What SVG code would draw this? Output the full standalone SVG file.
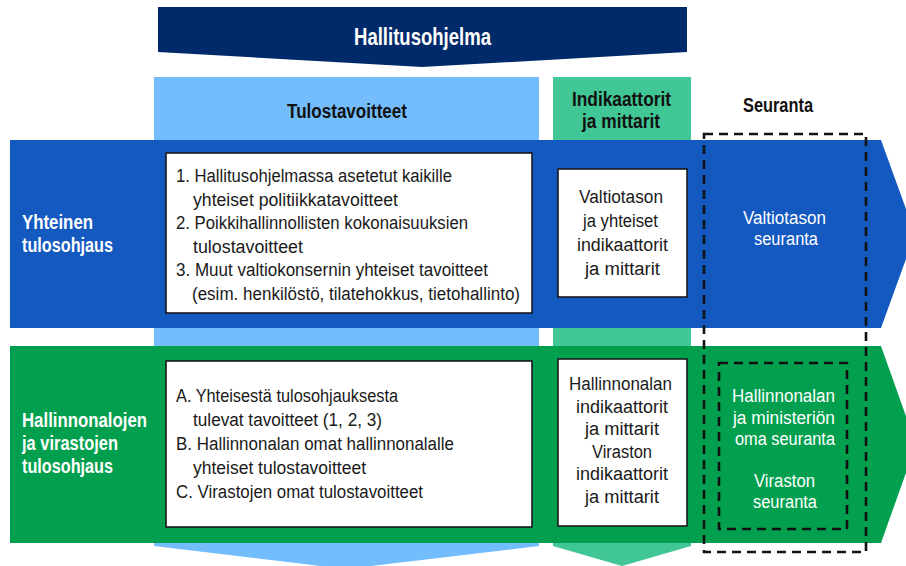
<svg xmlns="http://www.w3.org/2000/svg" width="906" height="566" viewBox="0 0 906 566">
<style>
text{font-family:"Liberation Sans",Arial,sans-serif}
.h{font-weight:bold;font-size:20px;fill:#111}
.hw{font-weight:bold;font-size:20px;fill:#fff}
.b{font-size:18px;fill:#1a1a1a}
.w{font-size:18px;fill:#fff}
.box{fill:#fff;stroke:#1a1a1a;stroke-width:1.6}
.dash{fill:none;stroke:#111;stroke-width:2.6;stroke-dasharray:9 6}
</style>
<rect width="906" height="566" fill="#fff"/>
<g id="columns">
<polygon id="col-tulostavoitteet" points="154,77 539,77 539,546 346,569 154,546" fill="#73BDFD"/>
<polygon id="col-indikaattorit" points="553,77 691,77 691,546 622,566 553,546" fill="#41C695"/>
</g>
<g id="hallitusohjelma">
<polygon points="158,7 687,7 687,52 422,67 158,52" fill="#012A6A"/>
<text x="422.5" y="45" text-anchor="middle" font-size="24" font-weight="bold" fill="#fff" textLength="137" lengthAdjust="spacingAndGlyphs">Hallitusohjelma</text>
</g>
<g id="header-tulostavoitteet">
<text class="h" x="347" y="118" text-anchor="middle" textLength="120" lengthAdjust="spacingAndGlyphs">Tulostavoitteet</text>
</g>
<g id="header-indikaattorit">
<text class="h" x="621.5" y="106" text-anchor="middle" textLength="99" lengthAdjust="spacingAndGlyphs">Indikaattorit</text>
<text class="h" x="621" y="128" text-anchor="middle" textLength="78" lengthAdjust="spacingAndGlyphs">ja mittarit</text>
</g>
<g id="header-seuranta">
<text class="h" x="778" y="112" text-anchor="middle" textLength="70" lengthAdjust="spacingAndGlyphs">Seuranta</text>
</g>
<g id="band-yhteinen">
<polygon points="10,140 881,140 915,234 881,328 10,328" fill="#1459BF"/>
<text class="hw" x="22" y="229" textLength="71" lengthAdjust="spacingAndGlyphs">Yhteinen</text>
<text class="hw" x="22" y="252" textLength="91" lengthAdjust="spacingAndGlyphs">tulosohjaus</text>
</g>
<g id="band-hallinnonalojen">
<polygon points="10,346 881,346 916,444.5 881,543 10,543" fill="#02A04E"/>
<text class="hw" x="22" y="427" textLength="125" lengthAdjust="spacingAndGlyphs">Hallinnonalojen</text>
<text class="hw" x="22" y="450" textLength="96" lengthAdjust="spacingAndGlyphs">ja virastojen</text>
<text class="hw" x="22" y="473" textLength="91" lengthAdjust="spacingAndGlyphs">tulosohjaus</text>
</g>
<g id="box-yhteiset-tavoitteet">
<rect class="box" x="166" y="153" width="366" height="160"/>
<text class="b" x="176" y="182" textLength="276" lengthAdjust="spacingAndGlyphs">1. Hallitusohjelmassa asetetut kaikille</text>
<text class="b" x="193" y="205.5" textLength="205" lengthAdjust="spacingAndGlyphs">yhteiset politiikkatavoitteet</text>
<text class="b" x="176" y="229" textLength="292" lengthAdjust="spacingAndGlyphs">2. Poikkihallinnollisten kokonaisuuksien</text>
<text class="b" x="193" y="252.5" textLength="110" lengthAdjust="spacingAndGlyphs">tulostavoitteet</text>
<text class="b" x="176" y="276" textLength="312" lengthAdjust="spacingAndGlyphs">3. Muut valtiokonsernin yhteiset tavoitteet</text>
<text class="b" x="192" y="299.5" textLength="328" lengthAdjust="spacingAndGlyphs">(esim. henkilöstö, tilatehokkus, tietohallinto)</text>
</g>
<g id="box-valtiotason-indikaattorit">
<rect class="box" x="558" y="169" width="129" height="128"/>
<text class="b" x="621" y="203" text-anchor="middle" textLength="84" lengthAdjust="spacingAndGlyphs">Valtiotason</text>
<text class="b" x="620.5" y="227" text-anchor="middle" textLength="75" lengthAdjust="spacingAndGlyphs">ja yhteiset</text>
<text class="b" x="622.5" y="251" text-anchor="middle" textLength="91" lengthAdjust="spacingAndGlyphs">indikaattorit</text>
<text class="b" x="622.5" y="275" text-anchor="middle" textLength="75" lengthAdjust="spacingAndGlyphs">ja mittarit</text>
</g>
<g id="valtiotason-seuranta">
<text class="w" x="784.5" y="224" text-anchor="middle" textLength="83" lengthAdjust="spacingAndGlyphs">Valtiotason</text>
<text class="w" x="786" y="245" text-anchor="middle" textLength="64" lengthAdjust="spacingAndGlyphs">seuranta</text>
</g>
<g id="box-hallinnonalan-tavoitteet">
<rect class="box" x="166" y="361" width="366" height="166"/>
<text class="b" x="176" y="402" textLength="222" lengthAdjust="spacingAndGlyphs">A. Yhteisestä tulosohjauksesta</text>
<text class="b" x="193" y="426" textLength="189" lengthAdjust="spacingAndGlyphs">tulevat tavoitteet (1, 2, 3)</text>
<text class="b" x="176" y="450" textLength="278" lengthAdjust="spacingAndGlyphs">B. Hallinnonalan omat hallinnonalalle</text>
<text class="b" x="193" y="474" textLength="173" lengthAdjust="spacingAndGlyphs">yhteiset tulostavoitteet</text>
<text class="b" x="176" y="498" textLength="247" lengthAdjust="spacingAndGlyphs">C. Virastojen omat tulostavoitteet</text>
</g>
<g id="box-hallinnonalan-indikaattorit">
<rect class="box" x="558" y="359" width="129" height="167"/>
<text class="b" x="620.5" y="390" text-anchor="middle" textLength="103" lengthAdjust="spacingAndGlyphs">Hallinnonalan</text>
<text class="b" x="622" y="412.6" text-anchor="middle" textLength="92" lengthAdjust="spacingAndGlyphs">indikaattorit</text>
<text class="b" x="622" y="435.2" text-anchor="middle" textLength="74" lengthAdjust="spacingAndGlyphs">ja mittarit</text>
<text class="b" x="622" y="457.8" text-anchor="middle" textLength="60" lengthAdjust="spacingAndGlyphs">Viraston</text>
<text class="b" x="622" y="480.4" text-anchor="middle" textLength="92" lengthAdjust="spacingAndGlyphs">indikaattorit</text>
<text class="b" x="622" y="503" text-anchor="middle" textLength="74" lengthAdjust="spacingAndGlyphs">ja mittarit</text>
</g>
<g id="seuranta-frame">
<rect class="dash" x="704" y="134" width="162" height="418"/>
</g>
<g id="hallinnonalan-seuranta">
<rect class="dash" x="719" y="363" width="128" height="166"/>
<text class="w" x="783.5" y="402" text-anchor="middle" textLength="103" lengthAdjust="spacingAndGlyphs">Hallinnonalan</text>
<text class="w" x="784" y="424" text-anchor="middle" textLength="102" lengthAdjust="spacingAndGlyphs">ja ministeriön</text>
<text class="w" x="785" y="445" text-anchor="middle" textLength="100" lengthAdjust="spacingAndGlyphs">oma seuranta</text>
<text class="w" x="784.5" y="487" text-anchor="middle" textLength="61" lengthAdjust="spacingAndGlyphs">Viraston</text>
<text class="w" x="785" y="508" text-anchor="middle" textLength="64" lengthAdjust="spacingAndGlyphs">seuranta</text>
</g>
<g id="connectors"></g>
</svg>
